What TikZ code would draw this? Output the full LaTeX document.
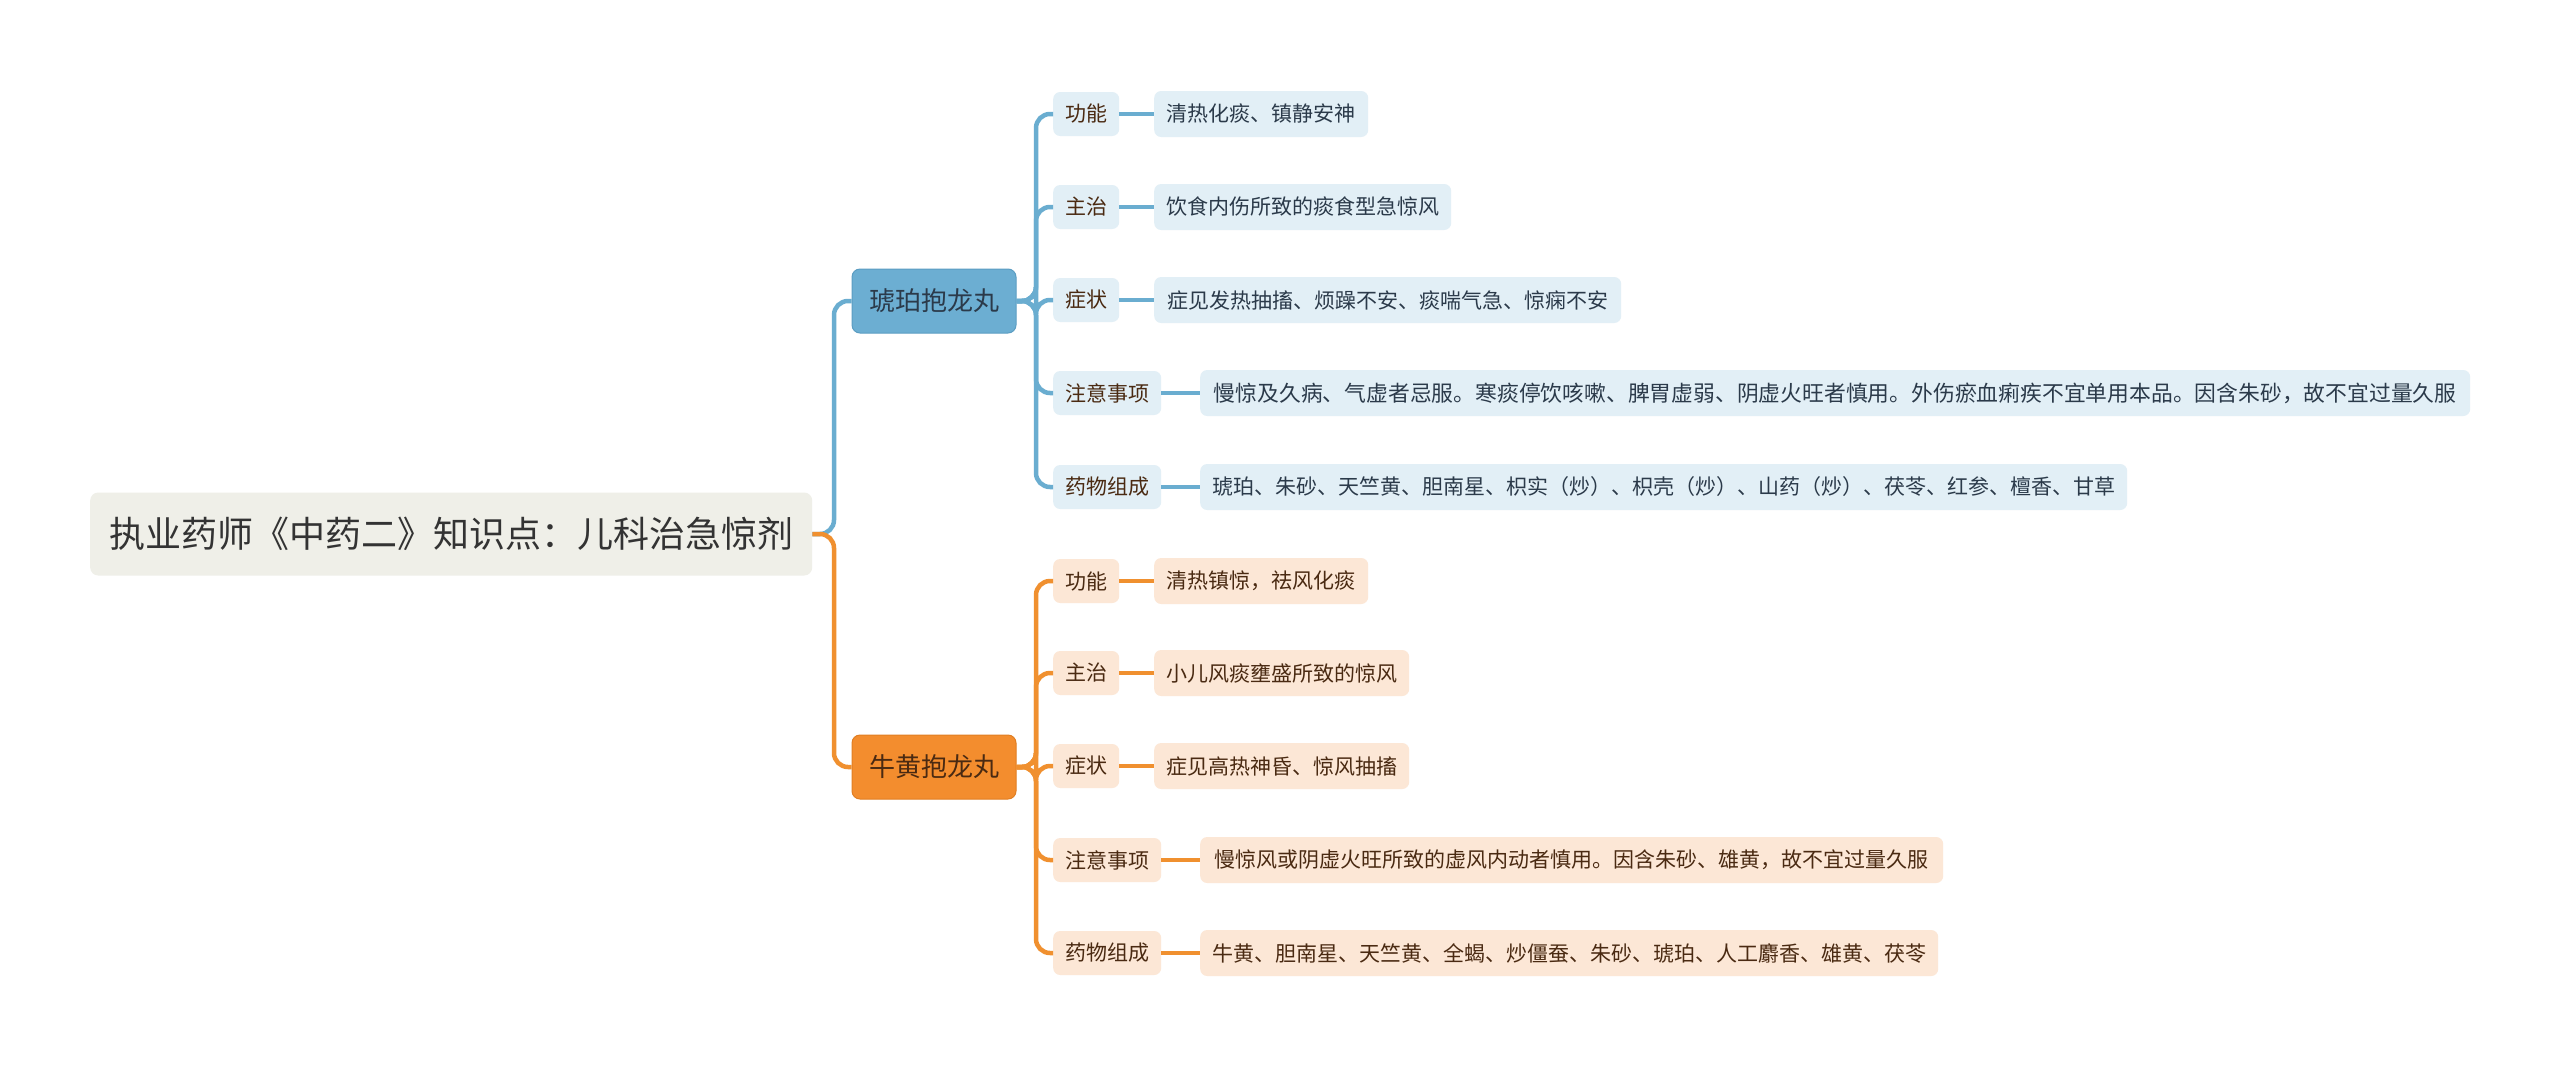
\documentclass[tikz,border=0pt]{standalone}
\usepackage{fontspec}
\setmainfont{Noto Sans CJK SC}
\definecolor{bline}{HTML}{6AADD0}
\definecolor{bfill}{HTML}{6CAED2}
\definecolor{bedge}{HTML}{5B9DC2}
\definecolor{blight}{HTML}{E2EFF6}
\definecolor{oline}{HTML}{F0902F}
\definecolor{ofill}{HTML}{F38D2E}
\definecolor{oedge}{HTML}{E07E22}
\definecolor{olight}{HTML}{FCE7D6}
\definecolor{rootfill}{HTML}{EFEFE8}
\definecolor{txt}{HTML}{333333}
\definecolor{btxt}{HTML}{2B3A4A}
\definecolor{otxt}{HTML}{4A2A12}
\begin{document}
\begin{tikzpicture}[x=1pt,y=-1pt,
  rootbox/.style={fill=rootfill, rounded corners=8pt, inner xsep=19pt, minimum height=83pt, text=txt, font=\fontsize{36}{40}\selectfont, anchor=west},
  branchbox/.style={rounded corners=8pt, inner xsep=14pt, minimum height=64pt, minimum width=164pt, font=\fontsize{26}{30}\selectfont, line width=1pt},
  bbranch/.style={branchbox, fill=bfill, draw=bedge, text=btxt},
  obranch/.style={branchbox, fill=ofill, draw=oedge, text=otxt},
  lab/.style={rounded corners=7pt, inner xsep=12pt, minimum height=44pt, font=\fontsize{21}{24}\selectfont, anchor=west, text=otxt},
  leaf/.style={rounded corners=7pt, inner xsep=12pt, minimum height=46pt, font=\fontsize{21}{24}\selectfont, anchor=west},
  blab/.style={lab, fill=blight},
  olab/.style={lab, fill=olight},
  bleaf/.style={leaf, fill=blight, text=btxt},
  oleaf/.style={leaf, fill=olight, text=otxt},
  bcon/.style={draw=bline, line width=4.5pt, rounded corners=14pt},
  ocon/.style={draw=oline, line width=4.5pt, rounded corners=14pt},
]
\useasboundingbox[fill=white] (0,0) rectangle (2560,1069);

% root
\node[rootbox] (root) at (90,534) {执业药师《中药二》知识点：儿科治急惊剂};

% branches
\node[bbranch] (b) at (934,301) {琥珀抱龙丸};
\node[obranch] (o) at (934,767) {牛黄抱龙丸};

\coordinate (rj) at (834,534);
\path[bcon] (root.east) -- (rj) -- (rj |- b.west) -- (b.west);
\path[ocon] (root.east) -- (rj) -- (rj |- o.west) -- (o.west);

% blue children
\node[blab] (b1) at (1053,114) {功能};
\node[blab] (b2) at (1053,207) {主治};
\node[blab] (b3) at (1053,300) {症状};
\node[blab] (b4) at (1053,393) {注意事项};
\node[blab] (b5) at (1053,487) {药物组成};

\node[bleaf, minimum width=214pt] (bl1) at (1154,114) {清热化痰、镇静安神};
\node[bleaf, minimum width=297pt] (bl2) at (1154,207) {饮食内伤所致的痰食型急惊风};
\node[bleaf, minimum width=467pt] (bl3) at (1154,300) {症见发热抽搐、烦躁不安、痰喘气急、惊痫不安};
\node[bleaf, minimum width=1270pt, font=\fontsize{21.8}{24}\selectfont] (bl4) at (1200,393) {慢惊及久病、气虚者忌服。寒痰停饮咳嗽、脾胃虚弱、阴虚火旺者慎用。外伤瘀血痢疾不宜单用本品。因含朱砂，故不宜过量久服};
\node[bleaf, minimum width=927pt] (bl5) at (1200,487) {琥珀、朱砂、天竺黄、胆南星、枳实（炒）、枳壳（炒）、山药（炒）、茯苓、红参、檀香、甘草};

\coordinate (bj) at (1036,301);
\foreach \c in {b1,b2,b3,b4,b5} {
  \path[bcon] (b.east) -- (bj) -- (bj |- \c.west) -- (\c.west);
}
\foreach \c/\l in {b1/bl1,b2/bl2,b3/bl3,b4/bl4,b5/bl5} {
  \path[bcon] (\c.east) -- (\l.west);
}

% orange children
\node[olab] (o1) at (1053,581) {功能};
\node[olab] (o2) at (1053,673) {主治};
\node[olab] (o3) at (1053,766) {症状};
\node[olab] (o4) at (1053,860) {注意事项};
\node[olab] (o5) at (1053,953) {药物组成};

\node[oleaf, minimum width=214pt] (ol1) at (1154,581) {清热镇惊，祛风化痰};
\node[oleaf, minimum width=255pt] (ol2) at (1154,673) {小儿风痰壅盛所致的惊风};
\node[oleaf, minimum width=255pt] (ol3) at (1154,766) {症见高热神昏、惊风抽搐};
\node[oleaf, minimum width=743pt] (ol4) at (1200,860) {慢惊风或阴虚火旺所致的虚风内动者慎用。因含朱砂、雄黄，故不宜过量久服};
\node[oleaf, minimum width=736pt] (ol5) at (1200,953) {牛黄、胆南星、天竺黄、全蝎、炒僵蚕、朱砂、琥珀、人工麝香、雄黄、茯苓};

\coordinate (oj) at (1036,767);
\foreach \c in {o1,o2,o3,o4,o5} {
  \path[ocon] (o.east) -- (oj) -- (oj |- \c.west) -- (\c.west);
}
\foreach \c/\l in {o1/ol1,o2/ol2,o3/ol3,o4/ol4,o5/ol5} {
  \path[ocon] (\c.east) -- (\l.west);
}
\end{tikzpicture}
\end{document}
